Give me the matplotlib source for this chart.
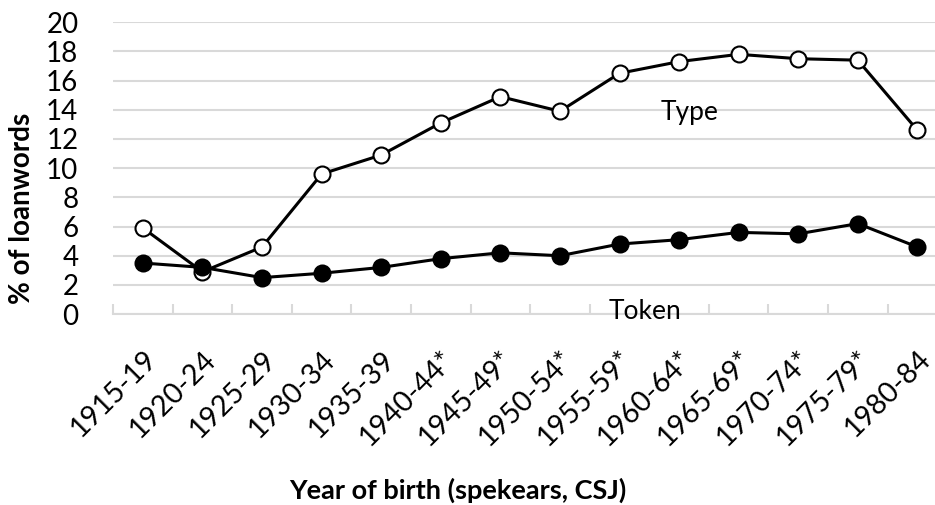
import matplotlib
matplotlib.use("Agg")
import matplotlib.pyplot as plt

plt.rcParams['font.family'] = ['Lato', 'DejaVu Sans']

cohorts = ['1915-19', '1920-24', '1925-29', '1930-34', '1935-39', '1940-44*',
           '1945-49*', '1950-54*', '1955-59*', '1960-64*', '1965-69*',
           '1970-74*', '1975-79*', '1980-84']
type_pct = [5.9, 2.9, 4.6, 9.6, 10.9, 13.1, 14.9, 13.9, 16.5, 17.3, 17.8, 17.5, 17.4, 12.6]
token_pct = [3.5, 3.2, 2.5, 2.8, 3.2, 3.8, 4.2, 4.0, 4.8, 5.1, 5.6, 5.5, 6.2, 4.6]

fig = plt.figure(figsize=(9.35, 5.05), dpi=100)
ax = fig.add_axes([0.121, 0.378, 0.892, 0.578])

x = range(len(cohorts))
ax.plot(x, type_pct, color='black', lw=2.2, marker='o', ms=11.5,
        mfc='white', mec='black', mew=1.5, zorder=3)
ax.plot(x, token_pct, color='black', lw=2.2, marker='o', ms=11.5,
        mfc='black', mec='black', mew=1.5, zorder=3)

ax.set_xlim(-0.5, len(cohorts) - 0.5)
ax.set_ylim(0, 20)
ax.set_yticks(range(0, 21, 2))
ax.grid(axis='y', color='#d9d9d9', lw=1.5)
ax.set_axisbelow(True)

# remove outer frame, keep a grey baseline
for s in ['top', 'right', 'left']:
    ax.spines[s].set_visible(False)
ax.spines['bottom'].set_color('#d9d9d9')
ax.spines['bottom'].set_linewidth(1.5)

ax.set_xticks(x)
ax.set_xticklabels(cohorts, rotation=45, ha='right', rotation_mode='anchor', fontsize=20.5)
ax.set_xticks([i - 0.5 for i in range(len(cohorts) + 1)], minor=True)
ax.tick_params(axis='x', which='major', length=0, pad=23)
ax.tick_params(axis='x', which='minor', length=7, width=1.5, color='#d9d9d9', direction='in')
ax.tick_params(axis='y', length=0, pad=25, labelsize=20)

fig.text(0.024, 0.588, '% of loanwords', rotation=90, ha='center', va='center',
         fontsize=20, fontweight='bold')
fig.text(0.49, 0.03, 'Year of birth (spekears, CSJ)', ha='center', va='center',
         fontsize=19.5, fontweight='bold')

ax.text(9.18, 13.8, 'Type', fontsize=19, ha='center', va='center')
ax.text(8.42, 0.15, 'Token', fontsize=19, ha='center', va='center')

fig.savefig('out.png', dpi=100)
